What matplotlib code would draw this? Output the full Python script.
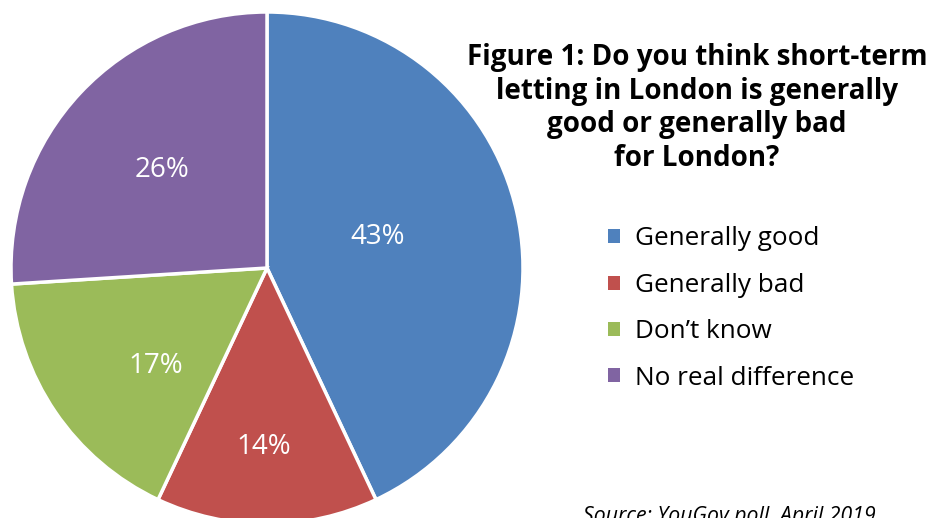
import numpy as np
import matplotlib
matplotlib.use("Agg")
import matplotlib.pyplot as plt

# ---------------------------
# Data
# ---------------------------
labels = ["Generally good", "Generally bad", "Don\u2019t know", "No real difference"]
shares = [43, 14, 17, 26]
colors = ["#4F81BD", "#C0504D", "#9BBB59", "#8064A2"]
title = "Figure 1: Do you think short-term\nletting in London is generally\ngood or generally bad\nfor London?"
source = "Source: YouGov poll, April 2019"

# where the % labels sit: fraction of radius and angle nudge (deg) from slice middle
label_dist = [0.45, 0.70, 0.58, 0.56]
label_turn = [3, -1, 7, 0]

plt.rcParams["font.family"] = ["Open Sans", "DejaVu Sans"]

W, H = 931, 518
fig = plt.figure(figsize=(W / 100, H / 100), dpi=100)
ax = fig.add_axes([0, 0, 1, 1])

cx, cy, R = 267, H - 268, 256
wedges, _ = ax.pie(shares, colors=colors, startangle=90, counterclock=False,
                   center=(cx, cy), radius=R,
                   wedgeprops=dict(edgecolor="white", linewidth=2.5))

# pie() resets the limits, so set them afterwards
ax.set_xlim(0, W)
ax.set_ylim(0, H)
ax.set_aspect("equal")
ax.axis("off")

# percentage labels
for w, v, d, t in zip(wedges, shares, label_dist, label_turn):
    mid = np.deg2rad((w.theta1 + w.theta2) / 2 + t)
    ax.text(cx + d * R * np.cos(mid), cy + d * R * np.sin(mid), f"{v}%",
            color="white", fontsize=20, ha="center", va="center")

ax.text(697, H - 108, title, ha="center", va="center", fontsize=20,
        fontweight="bold", linespacing=1.22)

leg = ax.legend(wedges, labels, loc="upper left", bbox_to_anchor=(598 / W, (H - 216) / H),
                frameon=False, fontsize=18.8, handlelength=0.45, handleheight=0.45,
                handletextpad=0.55, labelspacing=0.82, borderaxespad=0)
for h in leg.legend_handles:
    h.set_edgecolor("none")

ax.text(583, H - 506, source, ha="left", va="top", fontsize=15.3, style="italic")

fig.savefig("out.png", dpi=100)
